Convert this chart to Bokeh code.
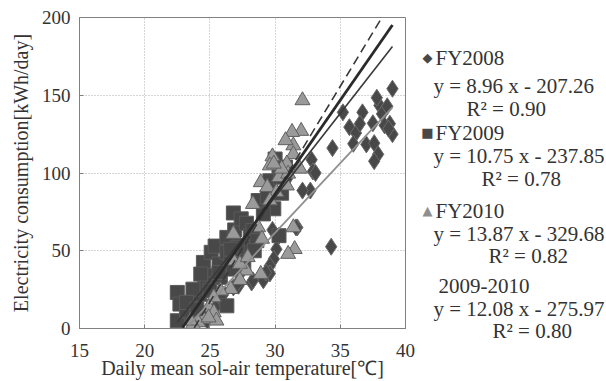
from bokeh.plotting import figure
from bokeh.models import Label, FixedTicker
from bokeh.layouts import row, column
from bokeh.embed import file_html
from bokeh.resources import INLINE

# FY2008 (diamonds)
fy2008_x = [39.0, 38.0, 35.2, 35.7, 36.2, 36.7, 36.5, 36.0, 37.0, 37.5, 37.8, 37.6, 37.9, 37.6,
            38.2, 38.6, 38.8, 38.4, 39.0, 38.7, 34.4, 34.3, 32.8, 32.9, 32.7, 32.1, 31.7, 30.9,
            30.3, 29.8, 30.1, 29.9, 29.6, 29.6, 29.1, 28.2, 27.2, 26.0, 25.5, 25.3, 24.8, 24.3,
            24.8, 24.0, 23.6, 23.1, 27.3, 26.8, 25.8, 33.1, 31.6, 29.3, 28.3, 27.0]
fy2008_y = [154.2, 143.5, 139.0, 129.5, 125.7, 139.0, 131.7, 118.8, 118.4, 132.0, 148.4, 119.2, 112.0, 107.6,
            138.0, 142.9, 131.7, 130.6, 125.0, 128.5, 116.0, 52.6, 108.5, 101.0, 88.7, 88.7, 65.0, 96.0,
            59.7, 63.4, 51.0, 44.7, 40.4, 35.4, 31.0, 29.6, 27.5, 21.7, 14.6, 9.2, 5.0, 33.0,
            31.8, 7.0, 5.0, 9.0, 35.0, 26.4, 20.0, 100.0, 65.0, 36.0, 31.0, 27.7]

# FY2009 (squares)
fy2009_x = [22.5, 22.7, 22.5, 23.2, 23.7, 24.2, 24.5, 25.1, 25.4, 25.7, 26.3, 26.8, 26.9, 26.3,
            26.6, 27.1, 27.4, 27.8, 28.1, 28.3, 28.7, 29.4, 30.0, 30.3, 29.6, 30.5, 30.3, 25.8,
            25.3, 24.6, 25.7, 26.3, 27.3, 27.9, 27.6, 26.8, 23.7, 24.3, 23.2, 29.9, 29.1, 30.4,
            30.8, 28.6, 28.4, 27.1, 26.6, 25.7, 25.0, 24.5, 24.0]
fy2009_y = [23.2, 15.7, 5.0, 11.4, 16.8, 22.0, 42.5, 49.0, 53.0, 41.5, 58.6, 74.3, 63.4, 49.0,
            42.5, 45.8, 70.5, 67.7, 59.7, 63.0, 82.3, 84.4, 109.0, 102.7, 95.0, 87.0, 59.7, 32.9,
            34.0, 28.6, 22.0, 14.6, 53.3, 52.2, 41.5, 38.2, 25.3, 35.0, 16.8, 77.0, 73.7, 97.3,
            103.8, 56.5, 50.0, 52.2, 51.0, 36.0, 24.3, 9.2, 12.5]

# FY2010 (triangles)
fy2010_x = [32.1, 32.0, 31.3, 31.4, 31.4, 30.8, 30.9, 29.8, 29.6, 28.9, 29.4, 30.3, 31.0, 31.9,
            30.9, 30.1, 29.6, 28.3, 28.7, 29.0, 31.4, 31.5, 31.0, 28.9, 27.8, 27.3, 26.8, 27.3,
            26.6, 25.8, 25.3, 24.9, 25.3, 24.5, 24.1, 23.7, 25.5, 24.9, 23.5, 26.8, 27.9, 30.5, 29.9]
fy2010_y = [146.7, 127.0, 126.3, 117.7, 112.0, 121.0, 106.0, 110.6, 104.8, 94.0, 90.9, 97.3, 99.5, 102.7,
            91.9, 87.6, 82.3, 80.0, 65.0, 57.6, 65.0, 51.0, 47.9, 35.0, 37.2, 31.1, 43.6, 41.5,
            25.3, 24.3, 20.0, 13.5, 10.3, 6.0, 3.9, 2.8, 5.0, 7.0, 5.0, 60.8, 45.8, 102.7, 105.9]

# Trend lines: slope, intercept and x span
fit_names = ["FY2008", "FY2009", "FY2010", "2009-2010"]
fit_slope = [8.96, 10.75, 13.87, 12.08]
fit_icpt = [-207.26, -237.85, -329.68, -275.97]
fit_r2 = ["0.90", "0.78", "0.82", "0.80"]
fit_x0 = [23.4, 22.5, 23.8, 22.9]
fit_x1 = [39.0, 39.0, 38.5, 39.0]

x_ticks = [15, 20, 25, 30, 35, 40]
y_ticks = [0, 50, 100, 150, 200]
x_title = "Daily mean sol-air temperature[℃]"
y_title = "Electricity consumption[kWh/day]"

SERIF = "Liberation Serif"
DARK = "#484848"
TXT = "#333333"
H = 381

p = figure(width=415, height=H, x_range=(15, 40), y_range=(0, 200),
           output_backend="svg", toolbar_location=None,
           min_border_left=79, min_border_right=10, min_border_top=17, min_border_bottom=53)
p.background_fill_color = "white"
p.border_fill_color = "white"
p.outline_line_color = "#808080"
p.outline_line_width = 1

for ax in (p.xaxis[0], p.yaxis[0]):
    ax.major_label_text_font = SERIF
    ax.major_label_text_font_size = "19px"
    ax.major_label_text_color = TXT
    ax.axis_label_text_font = SERIF
    ax.axis_label_text_font_size = "20px"
    ax.axis_label_text_font_style = "normal"
    ax.axis_label_text_color = TXT
    ax.axis_line_color = "#808080"
    ax.major_tick_line_color = "#808080"
    ax.major_tick_in = 4
    ax.major_tick_out = 0
    ax.minor_tick_line_color = None

p.xaxis.ticker = FixedTicker(ticks=x_ticks)
p.yaxis.ticker = FixedTicker(ticks=y_ticks)
p.xaxis.axis_label = x_title
p.yaxis.axis_label = y_title
p.xaxis.major_label_standoff = 15
p.xaxis.axis_label_standoff = -3
p.yaxis.major_label_standoff = 9
p.yaxis.axis_label_standoff = 7

p.xgrid.grid_line_color = "#aaaaaa"
p.ygrid.grid_line_color = "#aaaaaa"
p.xgrid.grid_line_dash = "1 2"
p.ygrid.grid_line_dash = "1 2"

p.scatter(fy2008_x, fy2008_y, marker="diamond", size=17, fill_color=DARK,
          line_color="#6a6a6a", line_width=1)
p.scatter(fy2009_x, fy2009_y, marker="square", size=14, fill_color=DARK,
          line_color="#5a5a5a", line_width=1)
p.scatter(fy2010_x, fy2010_y, marker="triangle", size=15, fill_color="#9a9a9a",
          line_color="#606060", line_width=1)

line_styles = [
    dict(line_color="#8f8f8f", line_width=1.8, line_dash="solid"),
    dict(line_color="#3a3a3a", line_width=1.6, line_dash="solid"),
    dict(line_color="#3a3a3a", line_width=1.6, line_dash="9 5"),
    dict(line_color="#2a2a2a", line_width=2.8, line_dash="solid"),
]
for i in range(4):
    xs = [fit_x0[i], fit_x1[i]]
    ys = [fit_slope[i] * x + fit_icpt[i] for x in xs]
    p.line(xs, ys, **line_styles[i])

# Legend panel: a separate, axis-less figure whose frame covers it entirely
LW = 191
leg = figure(width=LW, height=H, x_range=(0, LW), y_range=(H, 0),
             output_backend="svg", toolbar_location=None, title=None,
             x_axis_location=None, y_axis_location=None,
             min_border=0, min_border_left=0, min_border_right=0,
             min_border_top=0, min_border_bottom=0)
leg.grid.visible = False
leg.outline_line_color = None
leg.background_fill_color = "white"
leg.border_fill_color = "white"


def lab(x, y, text, color=TXT, size="21px", align="left", font=SERIF):
    leg.add_layout(Label(x=x, y=y, text=text,
                         text_font=font, text_font_size=size, text_color=color,
                         text_align=align, text_baseline="middle"))


marker_chars = ["◆", "■", "▲", None]
marker_colors = [DARK, DARK, "#8f8f8f", None]
title_x = [20, 20, 20, 23]
title_y = [57, 132, 210, 285]
eq_y = [85, 155, 233, 308]
r2_y = [108, 178, 255, 330]
r2_x = [51, 66, 73, 77]

for i in range(4):
    if marker_chars[i]:
        lab(12, title_y[i], marker_chars[i], color=marker_colors[i], size="13px",
            align="center", font="DejaVu Sans")
    lab(title_x[i], title_y[i], fit_names[i])
    sign = "-" if fit_icpt[i] < 0 else "+"
    lab(18, eq_y[i], f"y = {fit_slope[i]:.2f} x {sign} {abs(fit_icpt[i]):.2f}")
    lab(r2_x[i], r2_y[i], f"R² = {fit_r2[i]}")

layout = row(p, column(leg))
open("out.html", "w").write(file_html(layout, INLINE))
